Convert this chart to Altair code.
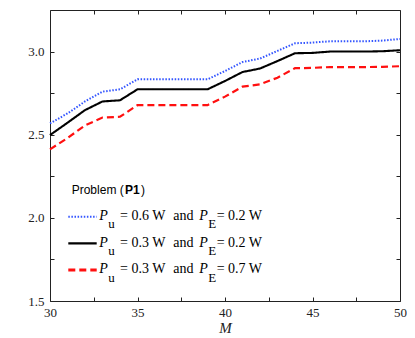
import altair as alt
import pandas as pd

# ---- data ----
M = list(range(30, 51))
blue_vals = [2.568, 2.628, 2.700, 2.759, 2.773, 2.833, 2.833, 2.833, 2.833, 2.833,
             2.883, 2.937, 2.958, 3.004, 3.050, 3.054, 3.062, 3.062, 3.062, 3.066, 3.076]
black_vals = [2.498, 2.572, 2.648, 2.700, 2.707, 2.773, 2.773, 2.773, 2.773, 2.773,
              2.823, 2.877, 2.898, 2.943, 2.990, 2.992, 3.000, 3.000, 3.000, 3.002, 3.008]
red_vals = [2.412, 2.480, 2.556, 2.603, 2.608, 2.678, 2.678, 2.678, 2.678, 2.678,
            2.729, 2.789, 2.803, 2.843, 2.900, 2.902, 2.907, 2.907, 2.907, 2.908, 2.912]
pu_vals = [0.6, 0.3, 0.3]
pe_vals = [0.2, 0.2, 0.7]
x_ticks = [30, 32.5, 35, 37.5, 40, 42.5, 45, 47.5, 50]
y_ticks = [1.5, 1.75, 2.0, 2.25, 2.5, 2.75, 3.0]

series = [f"Pu = {pu} W and PE = {pe} W" for pu, pe in zip(pu_vals, pe_vals)]
colors = ["#3355ff", "#000000", "#ff1010"]
dashes = [[1.5, 1.6], [1, 0], [7, 4]]
widths = [2.0, 2.2, 2.8]

SERIF = "'Liberation Serif', 'Times New Roman', Times, serif"
SANS = "'Liberation Sans', Arial, Helvetica, sans-serif"

rows = []
for name, vals in zip(series, [blue_vals, black_vals, red_vals]):
    for m, v in zip(M, vals):
        rows.append({"M": m, "value": v, "series": name})
df = pd.DataFrame(rows)

W, H = 350, 291
xscale = alt.Scale(domain=[30, 50], nice=False, zero=False)
yscale = alt.Scale(domain=[1.5, 3.25], nice=False, zero=False)

common = dict(domain=False, grid=False, ticks=True, tickSize=4, tickColor="#222",
              tickWidth=1, offset=-4, labelFont=SERIF, labelFontSize=13,
              labelColor="#222", labelOverlap=False, labelFlush=False, labelBound=False)

x_axis = alt.Axis(orient="bottom", values=x_ticks, format="d",
                  labelExpr="datum.value % 5 == 0 ? datum.label : ''",
                  labelPadding=5, title="M", titleFont=SERIF,
                  titleFontStyle="italic", titleFontWeight="normal", titleFontSize=15,
                  titleColor="#222", titlePadding=1, **common)
y_axis = alt.Axis(orient="left", values=y_ticks, format=".1f",
                  labelExpr="(datum.value * 100) % 50 == 0 ? datum.label : ''",
                  labelPadding=6, title=None, **common)

lines = alt.Chart(df).mark_line(strokeCap="butt").encode(
    x=alt.X("M:Q", scale=xscale, axis=x_axis),
    y=alt.Y("value:Q", scale=yscale, axis=y_axis),
    color=alt.Color("series:N", scale=alt.Scale(domain=series, range=colors), legend=None),
    strokeDash=alt.StrokeDash("series:N", scale=alt.Scale(domain=series, range=dashes), legend=None),
    strokeWidth=alt.StrokeWidth("series:N", scale=alt.Scale(domain=series, range=widths), legend=None),
)

mirror = alt.Chart(df).mark_line(opacity=0).encode(
    x=alt.X("M:Q", scale=xscale,
            axis=alt.Axis(orient="top", values=x_ticks, labels=False, title=None, **common)),
    y=alt.Y("value:Q", scale=yscale,
            axis=alt.Axis(orient="right", values=y_ticks, labels=False, title=None, **common)),
    detail="series:N",
)

one = alt.Data(values=[{}])


def txt(text, x, y, font=SERIF, size=14, style="normal", weight="normal"):
    return alt.Chart(one).mark_text(
        text=text, align="left", baseline="alphabetic", font=font, fontSize=size,
        fontStyle=style, fontWeight=weight, color="black"
    ).encode(x=alt.value(x), y=alt.value(y))


legend = [
    txt("Problem (", 21.7, 184.3, font=SANS, size=12),
    txt("P1", 75.0, 184.3, font=SANS, size=12, weight="bold"),
    txt(")", 91.0, 184.3, font=SANS, size=12),
]
row_base = [210.0, 236.7, 263.3]
for i, (pu, pe) in enumerate(zip(pu_vals, pe_vals)):
    yb = row_base[i]
    legend.append(
        alt.Chart(one).mark_rule(color=colors[i], strokeDash=dashes[i],
                                 strokeWidth=widths[i], strokeCap="butt").encode(
            x=alt.value(18.3), x2=alt.value(46.7), y=alt.value(yb - 3.3))
    )
    legend += [
        txt("P", 49.3, yb, style="italic"),
        txt("u", 58.3, yb + 8.3, size=13),
        txt(f"= {pu} W", 70.0, yb),
        txt("and", 123.3, yb),
        txt("P", 149.3, yb, style="italic"),
        txt("E", 158.3, yb + 8.3, size=13),
        txt(f"= {pe} W", 166.7, yb),
    ]

chart = alt.layer(lines, mirror, *legend).resolve_axis(
    x="independent", y="independent"
).properties(
    width=W, height=H,
    padding={"left": 42, "top": 2, "right": 7, "bottom": 34},
    autosize=alt.AutoSizeParams(type="none"),
).configure_view(stroke="#222", strokeWidth=1)

chart.save("out.html", embed_options={"renderer": "svg", "actions": False})
